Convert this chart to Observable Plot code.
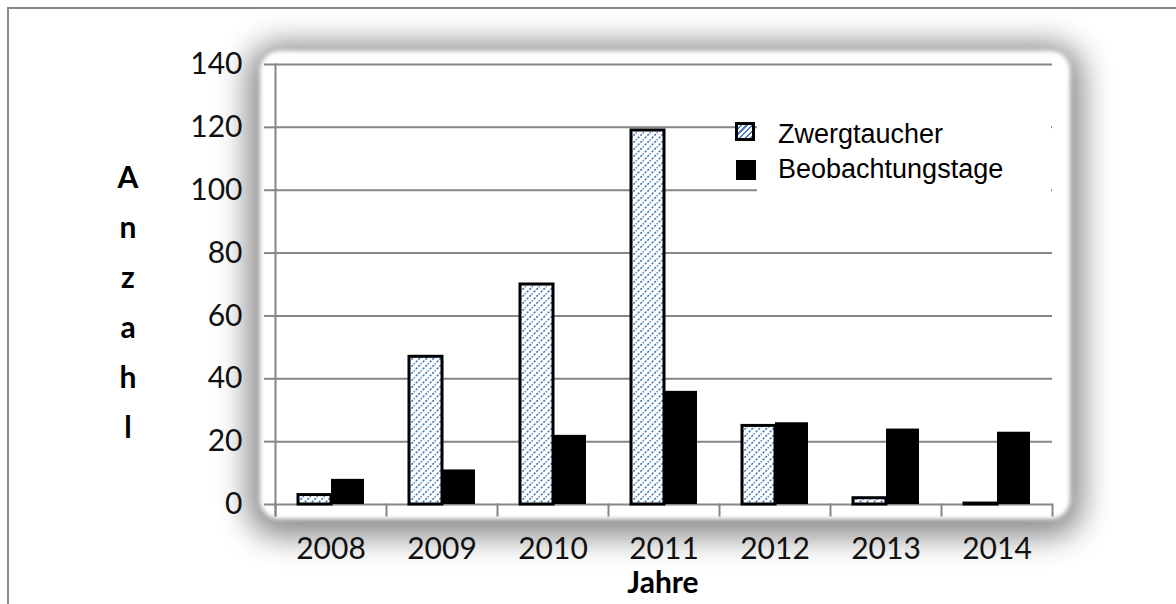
<!DOCTYPE html>
<html>
<head>
<meta charset="utf-8">
<script src="https://cdn.jsdelivr.net/npm/d3@7"></script>
<script src="https://cdn.jsdelivr.net/npm/@observablehq/plot@0.6"></script>
<style>
  html, body { margin: 0; padding: 0; background: white; }
  #wrap { position: relative; width: 1176px; height: 604px; overflow: hidden; background: white; }
  #frame { position: absolute; left: 7px; top: 7px; width: 1200px; height: 700px; border: 2px solid #8a8a8a; box-sizing: border-box; }
  #shadowclip { position: absolute; left: 9px; top: 9px; width: 1167px; height: 595px; overflow: hidden; }
  #shadow { position: absolute; left: 252px; top: 44px; width: 810px; height: 468px; background: white; border-radius: 20px;
            filter: blur(2px);
            box-shadow: 0 5px 30px 13px rgba(0,0,0,0.46); }
  #chart { position: absolute; left: 0; top: 0; }
  #ylab { position: absolute; left: 108px; top: 151px; width: 40px; text-align: center; font-family: Lato, sans-serif; font-weight: bold; font-size: 30px; line-height: 50px; color: #000; }
  #xlab { position: absolute; left: 563px; top: 566px; width: 200px; text-align: center; font-family: Lato, sans-serif; font-weight: bold; font-size: 30px; line-height: 30px; color: #000; }
  #legendbox { position: absolute; left: 757px; top: 106px; width: 294px; height: 94px; background: white; }
  .lg-text { position: absolute; left: 778px; font-family: "Liberation Sans", Arial, sans-serif; font-size: 27px; line-height: 27px; color: #000; white-space: nowrap; }
  .sw { position: absolute; box-sizing: border-box; }
</style>
</head>
<body>
<div id="wrap">
  <div id="frame"></div>
  <div id="shadowclip"><div id="shadow" style="left:251px;top:42px;"></div></div>
  <div id="chart"></div>
  <div id="ylab"></div>
  <div id="xlab"></div>
  <div id="legendbox"></div>
  <div class="sw" id="sw1" style="left:735px;top:122px;width:20px;height:19px;border:3px solid #000;background:repeating-linear-gradient(-45deg,#4a7ebb 0 1.5px,#fff 1.5px 4px);"></div>
  <div class="sw" id="sw2" style="left:736px;top:160px;width:20px;height:20px;background:#000;"></div>
  <div class="lg-text" id="lg1" style="top:121px;"></div>
  <div class="lg-text" id="lg2" style="top:156px;"></div>
</div>
<script>
// ---- data ----
const years = ["2008", "2009", "2010", "2011", "2012", "2013", "2014"];
const seriesNames = ["Zwergtaucher", "Beobachtungstage"];
const zwergtaucher = [3, 47, 70, 119, 25, 2, 0.3];
const beobachtungstage = [8, 11, 22, 36, 26, 24, 23];
const yTicks = [0, 20, 40, 60, 80, 100, 120, 140];
const yLabel = "Anzahl";
const xLabel = "Jahre";

const zData = years.map((y, i) => ({year: y, series: seriesNames[0], value: zwergtaucher[i]}));
const bData = years.map((y, i) => ({year: y, series: seriesNames[1], value: beobachtungstage[i]}));

const grid = "#868686";

const chart = Plot.plot({
  width: 1176,
  height: 604,
  marginLeft: 273,
  marginRight: 123,
  marginTop: 64,
  marginBottom: 100,
  style: {background: "none", fontFamily: "Lato, sans-serif", fontSize: "30px", overflow: "visible", color: "#111"},
  fx: {domain: years, padding: 0, axis: null},
  x: {domain: seriesNames, paddingInner: 0, paddingOuter: 0.64, axis: null},
  y: {domain: [0, 140], axis: null},
  marks: [
    Plot.ruleY(yTicks, {stroke: grid, strokeWidth: 2}),
    Plot.frame({anchor: "left", facetAnchor: "left", insetBottom: -11, stroke: grid, strokeWidth: 2}),
    Plot.frame({anchor: "left", insetTop: 440, insetBottom: -11, stroke: grid, strokeWidth: 2}),
    Plot.frame({anchor: "right", facetAnchor: "right", insetTop: 440, insetBottom: -11, stroke: grid, strokeWidth: 2}),
    Plot.barY(zData, {fx: "year", x: "series", y: "value", fill: "url(#hatch)", stroke: "#000", strokeWidth: 3}),
    Plot.barY(bData, {fx: "year", x: "series", y: "value", fill: "#000"}),
    Plot.axisY({ticks: yTicks, tickSize: 11, tickPadding: 22, stroke: grid, strokeWidth: 2, label: null, fontSize: 30}),
    Plot.axisFx({anchor: "bottom", tickSize: 0, tickPadding: 33, label: null, fontSize: 30})
  ]
});

// hatch pattern definition for the Zwergtaucher bars
const svg = d3.select(chart.tagName === "svg" ? chart : chart.querySelector("svg"));
const defs = svg.insert("defs", ":first-child");
const pat = defs.append("pattern").attr("id", "hatch").attr("patternUnits", "userSpaceOnUse").attr("width", 7).attr("height", 7);
pat.append("rect").attr("width", 7).attr("height", 7).attr("fill", "white");
pat.append("path").attr("d", "M-1,8 L8,-1 M-1,1 L1,-1 M6,8 L8,6")
  .attr("stroke", "#4a7ebb").attr("stroke-width", 1.5).attr("stroke-dasharray", "2.4,1.4");

document.getElementById("chart").appendChild(chart);

// y label letters stacked vertically
document.getElementById("ylab").innerHTML = yLabel.split("").map(c => `<div>${c}</div>`).join("");
document.getElementById("xlab").textContent = xLabel;
document.getElementById("lg1").textContent = seriesNames[0];
document.getElementById("lg2").textContent = seriesNames[1];
</script>
</body>
</html>
